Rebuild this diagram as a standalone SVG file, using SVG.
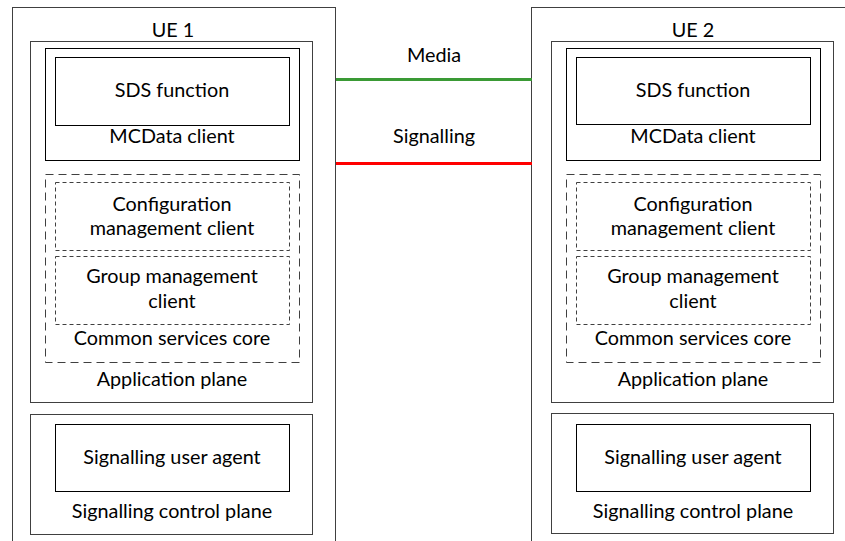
<svg xmlns="http://www.w3.org/2000/svg" width="845" height="541" viewBox="0 0 845 541">
<style>
.ue{fill:#fff;stroke:#404040;stroke-width:1}
.plane{fill:none;stroke:#404040;stroke-width:1}
.box{fill:none;stroke:#000;stroke-width:1}
.dash1{fill:none;stroke:#404040;stroke-width:1;stroke-dasharray:8,5}
.dash2{fill:none;stroke:#404040;stroke-width:1;stroke-dasharray:4,3}
text{font-family:"Lato","Open Sans","Liberation Sans",sans-serif;font-size:19.8px;fill:#000;text-anchor:middle}
.media{stroke:#3a9a35;stroke-width:3}
.sig{stroke:#ff0000;stroke-width:3}
</style>
<rect width="845" height="541" fill="#fff"/>
<g id="ue1">
<rect class="ue" x="12.5" y="7.5" width="323" height="540"/>
<text x="173" y="36.7">UE 1</text>
<g id="ue1-app">
<rect class="plane" x="30.5" y="41.5" width="282" height="361"/>
<text x="172" y="386">Application plane</text>
</g>
<g id="ue1-mcdata">
<rect class="box" x="45.5" y="48.5" width="254" height="112"/>
<text x="172" y="143">MCData client</text>
</g>
<g id="ue1-sds">
<rect class="box" x="55.5" y="57.5" width="234" height="68"/>
<text x="172" y="96.7">SDS function</text>
</g>
<g id="ue1-csc">
<rect class="dash1" x="45.5" y="174.5" width="254" height="188"/>
<text x="172" y="345">Common services core</text>
</g>
<g id="ue1-cmc">
<rect class="dash2" x="55.5" y="182.5" width="234" height="68"/>
<text x="172" y="210.7">Configuration</text>
<text x="172" y="235">management client</text>
</g>
<g id="ue1-gmc">
<rect class="dash2" x="55.5" y="256.5" width="234" height="68"/>
<text x="172" y="283.3">Group management</text>
<text x="172" y="307.7">client</text>
</g>
<g id="ue1-scp">
<rect class="plane" x="30.5" y="414.5" width="282" height="120"/>
<text x="172" y="518.3">Signalling control plane</text>
</g>
<g id="ue1-sua">
<rect class="box" x="55.5" y="424.5" width="234" height="67"/>
<text x="172" y="464.3">Signalling user agent</text>
</g>
</g>
<g id="ue2">
<rect class="ue" x="531.5" y="7.5" width="330" height="540"/>
<text x="693" y="36.7">UE 2</text>
<g id="ue2-app">
<rect class="plane" x="551.5" y="41.5" width="282" height="361"/>
<text x="693" y="386">Application plane</text>
</g>
<g id="ue2-mcdata">
<rect class="box" x="566.5" y="48.5" width="254" height="112"/>
<text x="693" y="143">MCData client</text>
</g>
<g id="ue2-sds">
<rect class="box" x="576.5" y="57.5" width="234" height="67"/>
<text x="693" y="96.7">SDS function</text>
</g>
<g id="ue2-csc">
<rect class="dash1" x="566.5" y="174.5" width="254" height="188"/>
<text x="693" y="345">Common services core</text>
</g>
<g id="ue2-cmc">
<rect class="dash2" x="576.5" y="182.5" width="234" height="68"/>
<text x="693" y="210.7">Configuration</text>
<text x="693" y="235">management client</text>
</g>
<g id="ue2-gmc">
<rect class="dash2" x="576.5" y="256.5" width="234" height="68"/>
<text x="693" y="283.3">Group management</text>
<text x="693" y="307.7">client</text>
</g>
<g id="ue2-scp">
<rect class="plane" x="551.5" y="413.5" width="282" height="120"/>
<text x="693" y="518.3">Signalling control plane</text>
</g>
<g id="ue2-sua">
<rect class="box" x="576.5" y="424.5" width="234" height="67"/>
<text x="693" y="464.3">Signalling user agent</text>
</g>
</g>
<g id="connectors">
<line class="media" x1="336" y1="79.5" x2="532" y2="79.5"/>
<line class="sig" x1="336" y1="163.5" x2="532" y2="163.5"/>
<text x="434" y="61.7">Media</text>
<text x="434" y="143.3">Signalling</text>
</g>
</svg>
